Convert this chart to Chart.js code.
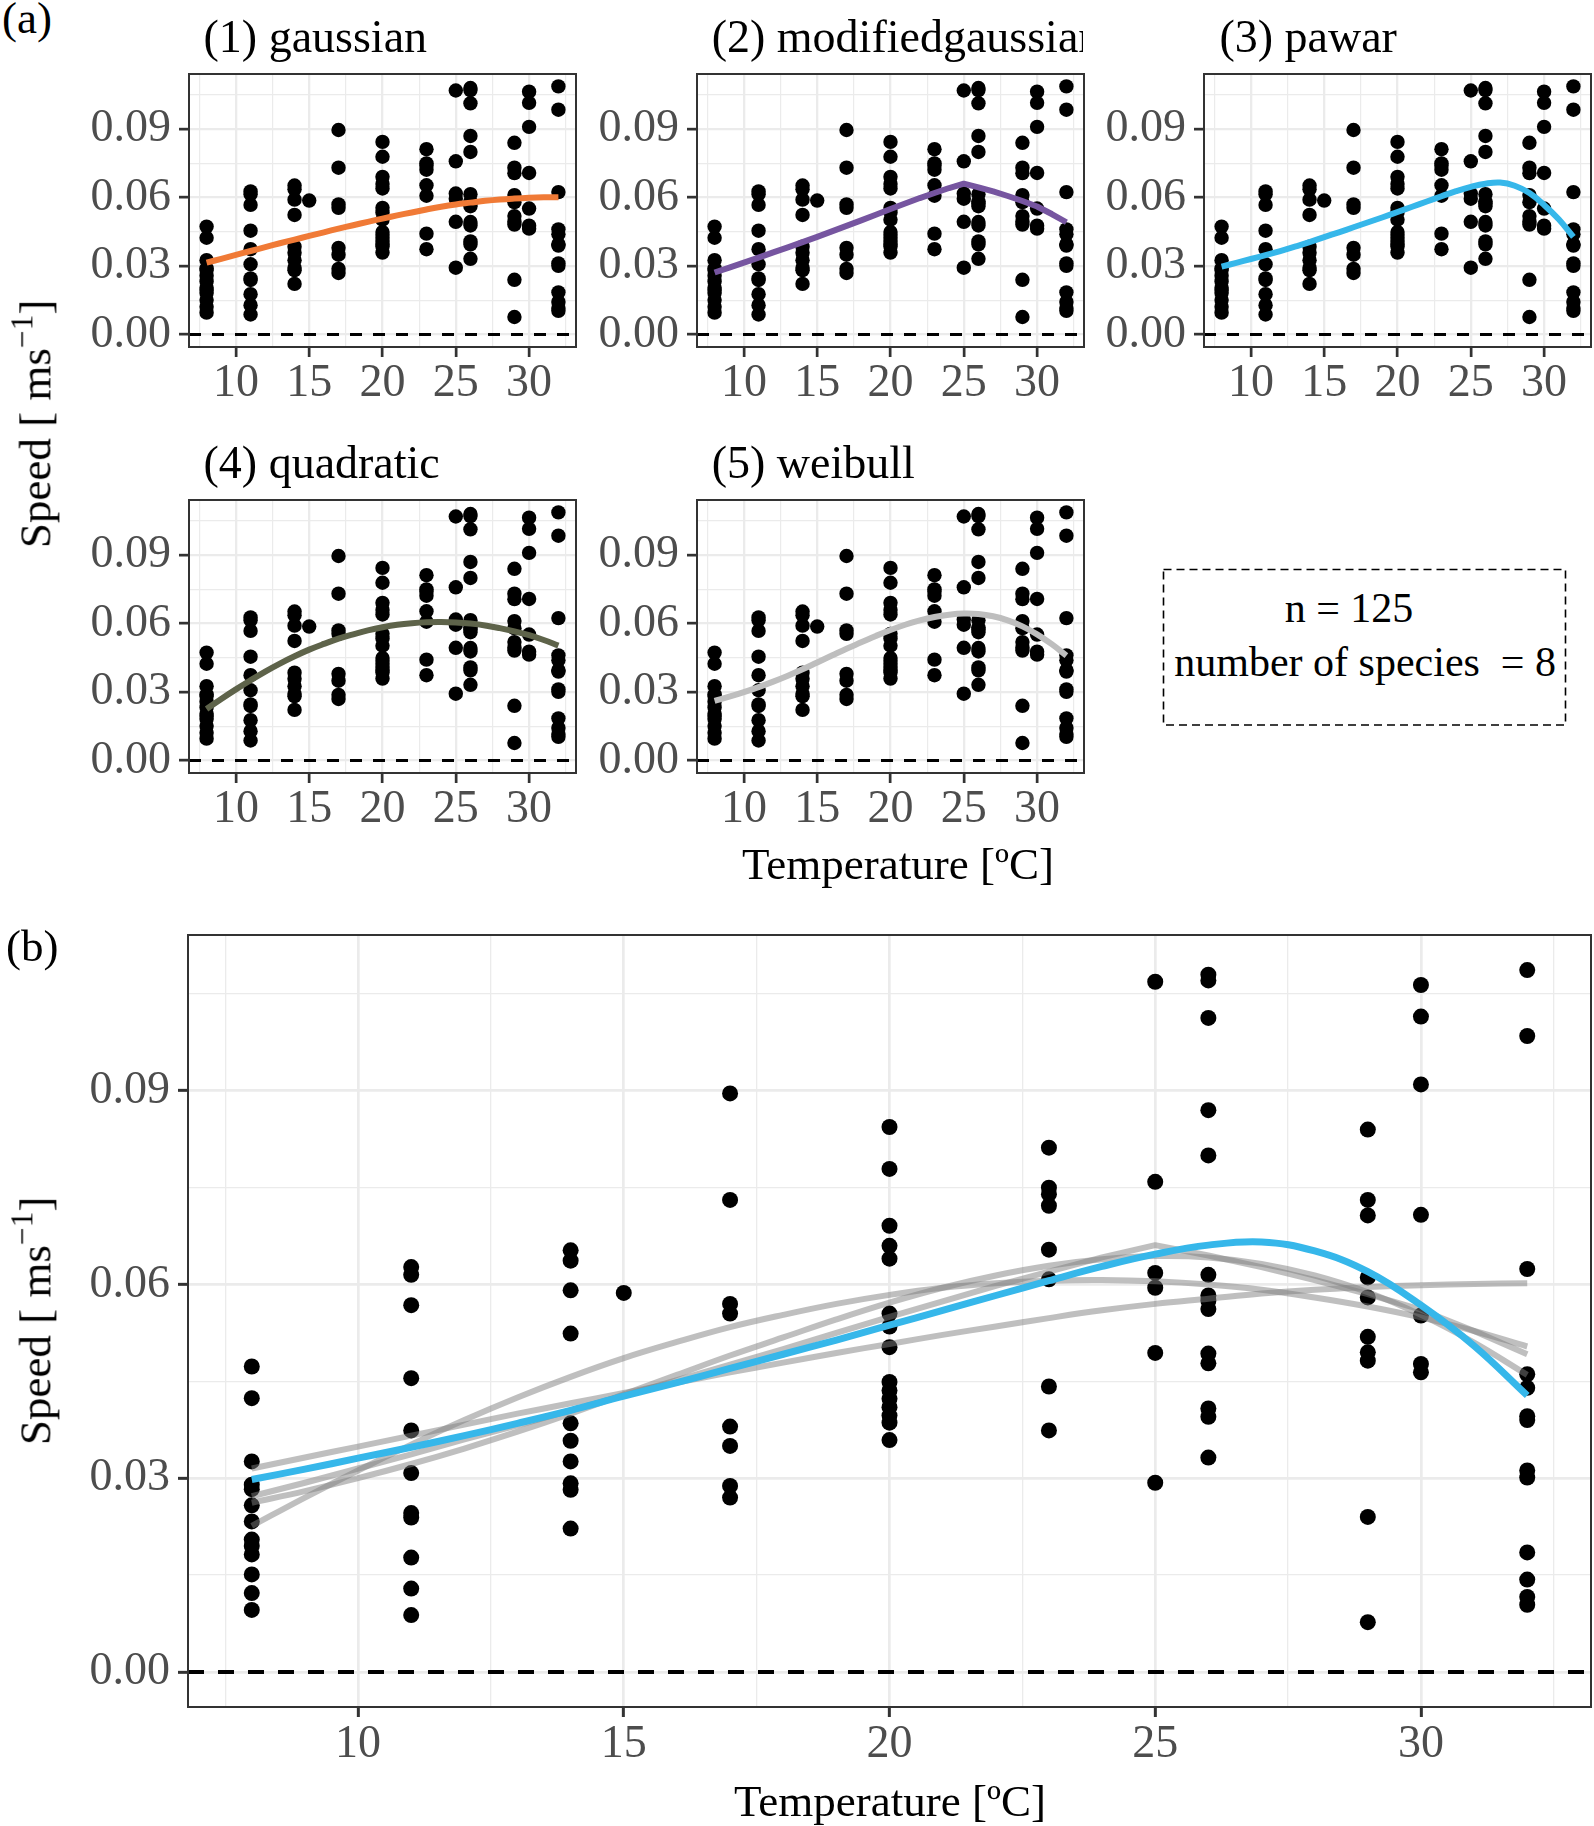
<!DOCTYPE html>
<html>
<head>
<meta charset="utf-8">
<title>Speed vs temperature – thermal performance fits</title>
<script src="https://cdn.jsdelivr.net/npm/chart.js@4.4.1/dist/chart.umd.min.js"></script>
<style>
  html, body { margin:0; padding:0; background:#fff; }
  body { width:1594px; height:1826px; position:relative; overflow:hidden;
         font-family:"Liberation Serif","Times New Roman",serif; color:#000; }
  .wrap { position:absolute; left:0; top:0; }
  .wrap canvas { display:block; }
  .txt { position:absolute; left:0; top:0; white-space:pre; line-height:1.15; }
  .clip { overflow:hidden; }
  .bl { display:inline-block; width:0; height:0; vertical-align:baseline; }
  sup { font-size:0.7em; position:relative; top:-0.05em; vertical-align:super; line-height:0; }
  svg.deco { position:absolute; left:0; top:0; pointer-events:none; }
</style>
</head>
<body>
<svg class="deco" width="1594" height="1826">
  <rect x="1163.5" y="569.5" width="402" height="155.5" fill="none" stroke="#000" stroke-width="1.6" stroke-dasharray="8 5"/>
</svg>
<script>
// ------------------------------------------------------------------ data
const obsTemps  = [8, 11, 14, 15, 17, 20, 23, 25, 26, 29, 30, 32];
const speedAt8  = [0.0473, 0.0424, 0.0326, 0.0290, 0.0283, 0.0258, 0.0233, 0.0205, 0.0195, 0.0182, 0.0151, 0.0122, 0.0096];
const speedAt11 = [0.0627, 0.0615, 0.0568, 0.0455, 0.0374, 0.0308, 0.0246, 0.0239, 0.0177, 0.0129, 0.0088];
const speedAt14 = [0.0653, 0.0637, 0.0591, 0.0524, 0.0385, 0.0358, 0.0326, 0.0292, 0.0282, 0.0222];
const speedAt15 = [0.0587];
const speedAt17 = [0.0896, 0.0731, 0.0570, 0.0555, 0.0380, 0.0350, 0.0288, 0.0270];
const speedAt20 = [0.0844, 0.0779, 0.0691, 0.0660, 0.0640, 0.0555, 0.0535, 0.0503, 0.0449, 0.0436, 0.0423, 0.0410, 0.0397, 0.0386, 0.0359];
const speedAt23 = [0.0812, 0.0750, 0.0740, 0.0722, 0.0654, 0.0608, 0.0442, 0.0374];
const speedAt25 = [0.1069, 0.0759, 0.0618, 0.0595, 0.0494, 0.0293];
const speedAt26 = [0.1080, 0.1071, 0.1013, 0.0870, 0.0800, 0.0615, 0.0583, 0.0575, 0.0562, 0.0493, 0.0478, 0.0408, 0.0395, 0.0332];
const speedAt29 = [0.0840, 0.0731, 0.0707, 0.0611, 0.0580, 0.0519, 0.0495, 0.0482, 0.0240, 0.0077];
const speedAt30 = [0.1064, 0.1015, 0.0910, 0.0708, 0.0552, 0.0477, 0.0464];
const speedAt32 = [0.1087, 0.0985, 0.0624, 0.0461, 0.0440, 0.0396, 0.0390, 0.0312, 0.0301, 0.0185, 0.0143, 0.0116, 0.0104];

const fitTemps     = [8, 9, 10, 11, 12, 13, 14, 15, 16, 17, 18, 19, 20, 21, 22, 23, 24, 25, 26, 27, 28, 29, 30, 31, 32];
const gaussianFit  = [0.0315,0.0332,0.0349,0.0366,0.0383,0.0400,0.0416,0.0432,0.0448,0.0464,0.0479,0.0494,0.0508,0.0522,0.0535,0.0548,0.0560,0.0570,0.0578,0.0586,0.0592,0.0596,0.0599,0.0601,0.0602];
const modGaussFit  = [0.0272,0.0293,0.0315,0.0337,0.0360,0.0382,0.0405,0.0428,0.0452,0.0476,0.0500,0.0525,0.0550,0.0574,0.0598,0.0620,0.0642,0.0661,0.0645,0.0627,0.0607,0.0585,0.0561,0.0528,0.0492];
const pawarFit     = [0.0298,0.0314,0.0331,0.0348,0.0366,0.0385,0.0405,0.0427,0.0448,0.0470,0.0492,0.0514,0.0537,0.0560,0.0583,0.0606,0.0628,0.0647,0.0661,0.0666,0.0652,0.0620,0.0568,0.0505,0.0428];
const quadraticFit = [0.0226,0.0270,0.0312,0.0352,0.0390,0.0425,0.0457,0.0486,0.0511,0.0534,0.0553,0.0570,0.0584,0.0595,0.0602,0.0606,0.0607,0.0605,0.0600,0.0592,0.0580,0.0566,0.0549,0.0528,0.0504];
const weibullFit   = [0.0262,0.0280,0.0300,0.0322,0.0346,0.0372,0.0400,0.0430,0.0460,0.0490,0.0518,0.0546,0.0572,0.0595,0.0614,0.0629,0.0639,0.0644,0.0642,0.0632,0.0614,0.0588,0.0553,0.0510,0.0460];

const xTickValues = [7.5, 10, 12.5, 15, 17.5, 20, 22.5, 25, 27.5, 30, 32.5];
const xTickLabels = ['', '10', '', '15', '', '20', '', '25', '', '30', ''];
const yTickValues = [0, 0.015, 0.03, 0.045, 0.06, 0.075, 0.09, 0.105];
const yTickLabels = ['0.00', '', '0.03', '', '0.06', '', '0.09', ''];

const xMin = 6.8, xMax = 33.2;
const yMin = -0.00544, yMax = 0.11414;
const zeroLevel = 0;

// ------------------------------------------------------------------ styles / layout
const FONT = '"Liberation Serif", "Times New Roman", serif';
const ST_TOP = { point: 7.2, fitWidth: 6, gridMajor: 2.3, gridMinor: 1.2, tickWidth: 2.7, tickLen: 10,
                 dash: [12, 11], dashWidth: 3, frame: 2, xPad: 4 };
const ST_BOT = { point: 8, fitWidth: 7, grayWidth: 6, gridMajor: 2.7, gridMinor: 1.3, tickWidth: 3, tickLen: 10,
                 dash: [16, 14], dashWidth: 4, frame: 2, xPad: 5 };

const speedByTemp = [speedAt8, speedAt11, speedAt14, speedAt15, speedAt17, speedAt20,
                     speedAt23, speedAt25, speedAt26, speedAt29, speedAt30, speedAt32];
const observations = obsTemps.flatMap((t, i) => speedByTemp[i].map(v => ({ x: t, y: v })));
const asPoints = arr => fitTemps.map((t, i) => ({ x: t, y: arr[i] }));

const framePlugin = {
  id: 'frame',
  afterDraw(chart, args, opts) {
    const { ctx, chartArea: a } = chart;
    ctx.save();
    ctx.strokeStyle = '#333333';
    ctx.lineWidth = opts.width || 2;
    ctx.strokeRect(a.left, a.top, a.right - a.left, a.bottom - a.top);
    ctx.restore();
  }
};

function zeroLine(st) {
  return { type: 'line', data: [{ x: xMin, y: zeroLevel }, { x: xMax, y: zeroLevel }],
           borderColor: '#000', borderWidth: st.dashWidth, borderDash: st.dash, borderCapStyle: 'butt',
           pointRadius: 0, order: 9 };
}
function pointsSet(st) {
  return { type: 'scatter', data: observations, pointRadius: st.point, pointHoverRadius: st.point,
           pointBackgroundColor: '#000', pointBorderWidth: 0, borderWidth: 0, showLine: false, order: 5 };
}
function fitSet(arr, color, width, order, smooth) {
  return { type: 'line', data: asPoints(arr), borderColor: color, borderWidth: width,
           pointRadius: 0, fill: false, order: order,
           cubicInterpolationMode: 'default', tension: smooth ? 0.4 : 0,
           borderCapStyle: 'butt', borderJoinStyle: 'round' };
}

function scales(st) {
  const majX = c => xTickLabels[c.index] !== '' && xTickLabels[c.index] !== undefined;
  const majY = c => yTickLabels[c.index] !== '' && yTickLabels[c.index] !== undefined;
  const tickFont = { family: FONT, size: 46, lineHeight: 1 };
  return {
    x: {
      type: 'linear', position: 'bottom', min: xMin, max: xMax,
      afterBuildTicks: ax => { ax.ticks = xTickValues.map(v => ({ value: v })); },
      afterFit: ax => { ax.height = 90; },
      border: { display: false },
      grid: { color: '#EBEBEB', lineWidth: c => majX(c) ? st.gridMajor : st.gridMinor,
              drawTicks: true, tickLength: st.tickLen,
              tickColor: c => majX(c) ? '#333333' : 'rgba(0,0,0,0)', tickWidth: st.tickWidth },
      ticks: { autoSkip: false, maxRotation: 0, minRotation: 0, padding: st.xPad, color: '#4D4D4D',
               font: tickFont, callback: (v, i) => xTickLabels[i] }
    },
    y: {
      type: 'linear', position: 'left', min: yMin, max: yMax,
      afterBuildTicks: ax => { ax.ticks = yTickValues.map(v => ({ value: v })); },
      afterFit: ax => { ax.width = 130; },
      border: { display: false },
      grid: { color: '#EBEBEB', lineWidth: c => majY(c) ? st.gridMajor : st.gridMinor,
              drawTicks: true, tickLength: st.tickLen,
              tickColor: c => majY(c) ? '#333333' : 'rgba(0,0,0,0)', tickWidth: st.tickWidth },
      ticks: { autoSkip: false, padding: 8, color: '#4D4D4D',
               font: tickFont, callback: (v, i) => yTickLabels[i] }
    }
  };
}

function makeChart(rect, datasets, st) {
  const wrap = document.createElement('div');
  wrap.className = 'wrap';
  const canvas = document.createElement('canvas');
  const w0 = Math.round(rect.r - rect.l + 160), h0 = Math.round(rect.b - rect.t + 160);
  canvas.width = w0; canvas.height = h0;
  canvas.style.width = w0 + 'px'; canvas.style.height = h0 + 'px';
  wrap.appendChild(canvas);
  document.body.appendChild(wrap);
  const chart = new Chart(canvas, {
    type: 'scatter',
    data: { datasets },
    options: {
      responsive: false, maintainAspectRatio: false, animation: false, events: [], devicePixelRatio: 1,
      layout: { padding: { top: 8, right: 8, left: 0, bottom: 0 } },
      plugins: { legend: { display: false }, tooltip: { enabled: false }, frame: { width: st.frame } },
      scales: scales(st)
    },
    plugins: [framePlugin]
  });
  const ca = chart.chartArea;
  const W = Math.round(w0 + (rect.r - rect.l) - (ca.right - ca.left));
  const H = Math.round(h0 + (rect.b - rect.t) - (ca.bottom - ca.top));
  chart.resize(W, H);
  const cb = chart.chartArea;
  wrap.style.left = Math.round(rect.l - cb.left) + 'px';
  wrap.style.top = Math.round(rect.t - cb.top) + 'px';
  return chart;
}

// ------------------------------------------------------------------ text helpers
function textBox(html, size, extraClass) {
  const d = document.createElement('div');
  d.className = 'txt' + (extraClass ? ' ' + extraClass : '');
  d.style.fontSize = size + 'px';
  d.innerHTML = html + '<span class="bl"></span>';
  document.body.appendChild(d);
  return { d, base: d.querySelector('.bl').offsetTop, w: d.offsetWidth, h: d.offsetHeight };
}
function addText(html, x, baseline, size, align, color) {
  const t = textBox(html, size);
  if (color) t.d.style.color = color;
  const f = align === 'center' ? 0.5 : (align === 'right' ? 1 : 0);
  t.d.style.left = (x - t.w * f) + 'px';
  t.d.style.top = (baseline - t.base) + 'px';
  return t.d;
}
function addStrip(text, rect, baseline) {
  const t = textBox(text, 46, 'clip');
  t.d.style.width = (rect.r - rect.l - 15) + 'px';
  t.d.style.left = (rect.l + 15) + 'px';
  t.d.style.top = (baseline - t.base) + 'px';
}
function addRotated(html, baseX, cy, size) {
  const t = textBox(html, size);
  const cx = baseX - (t.base - t.h / 2);
  t.d.style.left = (cx - t.w / 2) + 'px';
  t.d.style.top = (cy - t.h / 2) + 'px';
  t.d.style.transform = 'rotate(-90deg)';
}

// ------------------------------------------------------------------ build
const rowTop1 = { t: 74, b: 346.7 }, rowTop2 = { t: 500.3, b: 773 };
const col1 = { l: 188.5, r: 575.1 }, col2 = { l: 696.7, r: 1083.3 }, col3 = { l: 1204.4, r: 1591 };
const R = (c, r) => ({ l: c.l, r: c.r, t: r.t, b: r.b });

const panels = [
  { title: '(1) gaussian',         rect: R(col1, rowTop1), fit: gaussianFit,  color: '#F07A36', smooth: true,  base: 51.7 },
  { title: '(2) modifiedgaussian', rect: R(col2, rowTop1), fit: modGaussFit,  color: '#7655A0', smooth: false, base: 51.7 },
  { title: '(3) pawar',            rect: R(col3, rowTop1), fit: pawarFit,     color: '#36B7EA', smooth: true,  base: 51.7 },
  { title: '(4) quadratic',        rect: R(col1, rowTop2), fit: quadraticFit, color: '#5E634A', smooth: true,  base: 478 },
  { title: '(5) weibull',          rect: R(col2, rowTop2), fit: weibullFit,   color: '#BEBEBE', smooth: true,  base: 478 }
];

panels.forEach(p => {
  makeChart(p.rect, [zeroLine(ST_TOP), pointsSet(ST_TOP), fitSet(p.fit, p.color, ST_TOP.fitWidth, 1, p.smooth)], ST_TOP);
  addStrip(p.title, p.rect, p.base);
});

const GRAY = 'rgba(128,128,128,0.5)';
makeChart({ l: 188.4, r: 1591.5, t: 935, b: 1706.5 }, [
  zeroLine(ST_BOT),
  pointsSet(ST_BOT),
  fitSet(gaussianFit,  GRAY, ST_BOT.grayWidth, 3, true),
  fitSet(modGaussFit,  GRAY, ST_BOT.grayWidth, 3, false),
  fitSet(quadraticFit, GRAY, ST_BOT.grayWidth, 3, true),
  fitSet(weibullFit,   GRAY, ST_BOT.grayWidth, 3, true),
  fitSet(pawarFit, '#36B7EA', ST_BOT.fitWidth, 1, true)
], ST_BOT);

// titles and labels
addText('(a)', 2, 33, 45, 'left');
addText('(b)', 6, 961, 45, 'left');
addText('Temperature [ºC]', 898, 879, 45, 'center');
addText('Temperature [ºC]', 890, 1816, 45, 'center');
addRotated('Speed [ ms<sup>−1</sup>]', 50, 423.5, 45);
addRotated('Speed [ ms<sup>−1</sup>]', 50, 1320.8, 45);
addText('n = 125', 1349.2, 621.7, 42, 'center');
addText('number of species  = 8', 1365.3, 676, 42, 'center');
</script>
</body>
</html>
